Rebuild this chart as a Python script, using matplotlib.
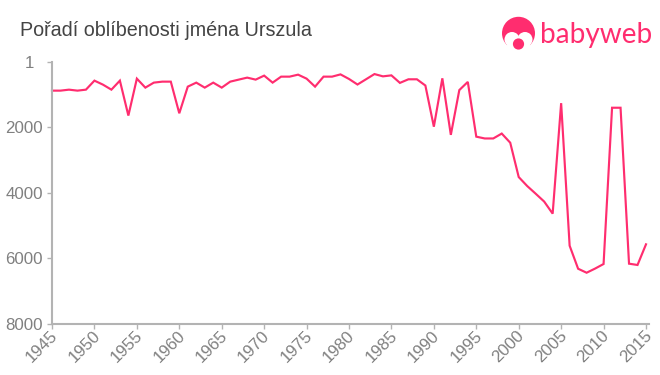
import matplotlib
matplotlib.use("Agg")
import matplotlib.pyplot as plt
from matplotlib.patches import Circle, Ellipse
from matplotlib.transforms import ScaledTranslation

years = list(range(1945, 2016))
ranks = [877, 877, 847, 877, 847, 571, 693, 847, 571, 1640, 510, 785, 632, 602, 602,
         1570, 755, 632, 785, 632, 785, 602, 540, 479, 540, 418, 632, 449, 449, 388,
         510, 755, 449, 449, 380, 520, 690, 530, 370, 440, 410, 640, 530, 530, 720,
         1980, 500, 2230, 860, 610, 2285, 2340, 2340, 2190, 2470, 3520, 3795, 4030,
         4270, 4640, 1260, 5620, 6325, 6447, 6320, 6180, 1400, 1400, 6170, 6210, 5578]
x_ticks = list(range(1945, 2016, 5))
y_ticks = [1, 2000, 4000, 6000, 8000]
title = "Pořadí oblíbenosti jména Urszula"
logo_text = "babyweb"

PINK = "#ff2d6f"
GREY = "#b3b3b3"
TXT = "#808080"
W, H = 660, 375
plt.rcParams["font.family"] = ["Liberation Sans", "DejaVu Sans"]

fig = plt.figure(figsize=(W / 100, H / 100), dpi=100, facecolor="white")
L, R, T, B = 52, 649, 62, 323.5
ax = fig.add_axes([L / W, 1 - B / H, (R - L) / W, (B - T) / H])
ax.plot(years, ranks, color=PINK, lw=1.55, solid_joinstyle="miter", clip_on=False)
ax.set_xlim(1945, 2015 + 3 / 8.486)
ax.set_ylim(8000, 1)
ax.set_xticks(x_ticks)
ax.set_yticks(y_ticks)
ax.set_xticklabels([str(v) for v in x_ticks], rotation=45, ha="right", rotation_mode="anchor")
for s in ("top", "right"):
    ax.spines[s].set_visible(False)
for s in ("left", "bottom"):
    ax.spines[s].set_color(GREY)
    ax.spines[s].set_linewidth(1.5)
ax.tick_params(axis="both", colors=GREY, length=3.5, width=1, labelcolor=TXT, labelsize=12.2, pad=3)
ax.tick_params(axis="x", pad=2)
shift = ScaledTranslation(-2 / 100, 3 / 100, fig.dpi_scale_trans)
for lab in ax.get_xticklabels():
    lab.set_transform(lab.get_transform() + shift)
first = ax.get_yticklabels()[0]
first.set_transform(first.get_transform() + ScaledTranslation(-9 / 100, 0, fig.dpi_scale_trans))

fig.text(20 / W, 1 - 30.5 / H, title, fontsize=14.25, color="#444444", va="center", ha="left")

# logo, in pixel coordinates
lg = fig.add_axes([0, 0, 1, 1], facecolor="none")
lg.set_xlim(0, W)
lg.set_ylim(H, 0)
lg.axis("off")
lg.add_patch(Circle((518.5, 33.3), 16.5, fc=PINK, ec="none"))
lg.add_patch(Circle((512, 39.5), 7.5, fc="white", ec="none"))
lg.add_patch(Circle((525, 39.5), 7.5, fc="white", ec="none"))
lg.add_patch(Ellipse((518.5, 45), 23, 16, fc="white", ec="none"))
lg.add_patch(Circle((518.5, 44), 5.6, fc=PINK, ec="none"))
lg.text(540.5, 42.5, logo_text, fontsize=20.2, color=PINK, family="Lato", va="baseline", ha="left")

fig.savefig("out.png", dpi=100, facecolor="white")
